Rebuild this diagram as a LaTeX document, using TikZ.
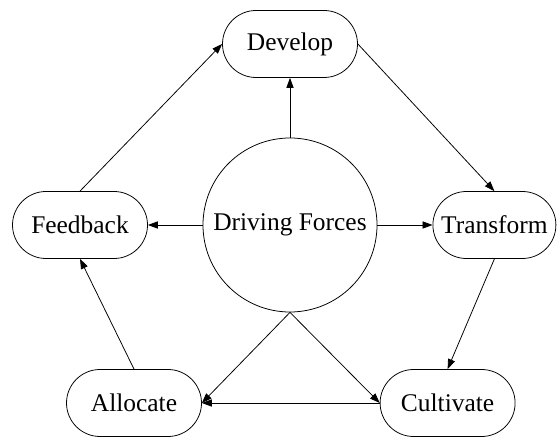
\documentclass[tikz,border=0pt]{standalone}
\usepackage{fontspec}
\setmainfont{Liberation Serif}
\usetikzlibrary{arrows.meta}
\begin{document}
\begin{tikzpicture}[>={Triangle[length=0.25cm,width=0.18cm]},line width=0.55pt,
	box/.style={draw,rectangle,rounded corners=0.8375cm,minimum width=3.375cm,minimum height=1.675cm,inner sep=0pt,font=\fontsize{18.1}{21}\selectfont},
	hub/.style={draw,circle,minimum size=4.35cm,inner sep=0pt,font=\fontsize{18.1}{21}\selectfont}]
	\useasboundingbox (0,0) rectangle (13.975,-10.925);
	%centre and the five stages
	\node[hub] (forces) at (7.25,-5.625) {Driving Forces};
	\node[box] (develop) at (7.25,-1.1) {Develop};
	\node[box,minimum width=3.075cm] (transform) at (12.36,-5.625) {Transform};
	\node[box] (cultivate) at (11.19,-10.075) {Cultivate};
	\node[box] (allocate) at (3.35,-10.075) {Allocate};
	\node[box] (feedback) at (2.0,-5.625) {Feedback};
	%spokes
	\draw[->] (forces) -- (develop);
	\draw[->] (forces) -- (transform);
	\draw[->] (forces) -- (feedback);
	\draw[->] (forces.south) -- (allocate.east);
	\draw[->] (forces.south) -- (cultivate.west);
	%cycle
	\draw[->] (develop.east) -- (transform.north);
	\draw[->] (transform.south) -- (cultivate.north);
	\draw[->] (cultivate) -- (allocate);
	\draw[->] (allocate.north) -- (feedback.south);
	\draw[->] (feedback.north) -- (develop.west);
\end{tikzpicture}
\end{document}
